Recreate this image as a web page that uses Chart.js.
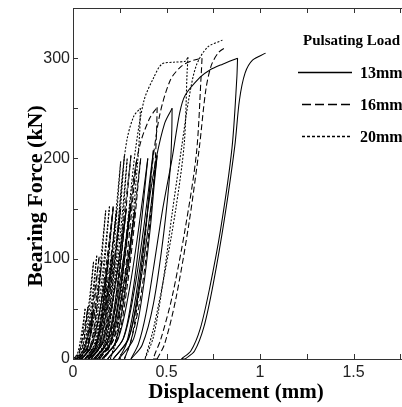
<!DOCTYPE html>
<html>
<head>
<meta charset="utf-8">
<script src="https://cdn.jsdelivr.net/npm/chart.js@4.4.1/dist/chart.umd.min.js"></script>
<style>
  html, body { margin: 0; padding: 0; background: #fff; overflow: hidden; }
  #wrap { width: 402px; height: 407px; overflow: hidden; }
</style>
</head>
<body>
<div id="wrap"><canvas id="ctx" width="460" height="407"></canvas></div>
<script>
// Load-displacement cycles, [displacement (mm), force (kN)].
// Each row is one cycle: loading up to the peak, then unloading;
// the next row starts where the unloading ends.
const cycles13mm = [
  [[0.02, 0], [0.052, 5], [0.074, 18], [0.092, 33], [0.11, 50], [0.105, 43], [0.099, 33], [0.087, 18], [0.07, 5]],
  [[0.04, 0], [0.093, 10], [0.13, 35], [0.16, 65], [0.19, 100], [0.181, 85], [0.169, 65], [0.146, 35], [0.116, 10]],
  [[0.065, 0], [0.118, 10], [0.155, 36], [0.185, 68], [0.215, 104], [0.205, 88], [0.192, 68], [0.168, 36], [0.136, 10]],
  [[0.085, 0], [0.155, 15], [0.205, 52], [0.245, 98], [0.285, 150], [0.272, 128], [0.254, 98], [0.221, 52], [0.178, 15]],
  [[0.11, 0], [0.18, 16], [0.23, 54], [0.27, 101], [0.31, 155], [0.296, 132], [0.277, 101], [0.243, 54], [0.198, 16]],
  [[0.13, 0], [0.2, 15], [0.25, 52], [0.29, 96], [0.33, 148], [0.317, 126], [0.299, 96], [0.266, 52], [0.223, 15]],
  [[0.155, 0], [0.241, 20], [0.302, 70], [0.351, 130], [0.4, 200], [0.384, 170], [0.362, 130], [0.322, 70], [0.268, 20]],
  [[0.185, 0], [0.271, 21], [0.332, 73], [0.381, 135], [0.43, 208], [0.414, 177], [0.392, 135], [0.352, 73], [0.298, 21]],
  [[0.215, 0], [0.297, 20], [0.356, 71], [0.403, 132], [0.45, 203], [0.434, 173], [0.414, 132], [0.376, 71], [0.324, 20]],
  [[0.245, 0], [0.285, 15], [0.325, 50], [0.365, 100], [0.405, 155], [0.445, 200], [0.49, 235], [0.53, 250],
   [0.528, 225], [0.52, 190], [0.485, 125], [0.43, 55], [0.37, 14]],
  [[0.31, 0], [0.35, 15], [0.39, 45], [0.43, 90], [0.48, 150], [0.53, 200], [0.57, 245], [0.6, 263],
   [0.68, 281], [0.73, 288], [0.8, 294], [0.88, 300], [0.876, 280], [0.85, 210], [0.79, 130],
   [0.73, 70], [0.68, 30], [0.63, 8], [0.58, 0]],
  [[0.6, 0], [0.65, 8], [0.7, 32], [0.75, 75], [0.81, 140], [0.865, 212], [0.89, 258], [0.92, 285],
   [0.96, 298], [1.03, 305]]
];

const cycles16mm = [
  [[0, 0], [0.028, 5], [0.048, 18], [0.064, 34], [0.08, 52], [0.075, 44], [0.069, 34], [0.058, 18], [0.042, 5]],
  [[0.015, 0], [0.059, 10], [0.09, 36], [0.115, 66], [0.14, 102], [0.131, 87], [0.12, 66], [0.1, 36], [0.072, 10]],
  [[0.03, 0], [0.074, 10], [0.105, 34], [0.13, 64], [0.155, 98], [0.146, 83], [0.135, 64], [0.115, 34], [0.087, 10]],
  [[0.045, 0], [0.105, 15], [0.147, 53], [0.181, 99], [0.215, 152], [0.203, 129], [0.187, 99], [0.159, 53], [0.121, 15]],
  [[0.063, 0], [0.123, 15], [0.165, 52], [0.199, 96], [0.233, 148], [0.221, 126], [0.205, 96], [0.176, 52], [0.138, 15]],
  [[0.08, 0], [0.141, 15], [0.185, 52], [0.22, 98], [0.255, 150], [0.243, 128], [0.226, 98], [0.196, 52], [0.156, 15]],
  [[0.097, 0], [0.172, 20], [0.225, 71], [0.267, 132], [0.31, 203], [0.295, 173], [0.275, 132], [0.24, 71], [0.192, 20]],
  [[0.12, 0], [0.197, 20], [0.252, 69], [0.296, 129], [0.34, 198], [0.324, 168], [0.304, 129], [0.266, 69], [0.217, 20]],
  [[0.142, 0], [0.219, 20], [0.274, 70], [0.318, 130], [0.362, 200], [0.346, 170], [0.326, 130], [0.288, 70], [0.239, 20]],
  [[0.164, 0], [0.2, 15], [0.24, 55], [0.28, 115], [0.32, 175], [0.36, 215], [0.41, 240], [0.45, 251],
   [0.447, 228], [0.437, 190], [0.405, 125], [0.36, 60], [0.31, 18]],
  [[0.275, 0], [0.31, 18], [0.345, 55], [0.38, 110], [0.415, 178], [0.46, 240], [0.52, 278], [0.58, 292],
   [0.63, 297], [0.69, 300], [0.686, 285], [0.66, 205], [0.6, 130], [0.53, 62], [0.47, 20], [0.43, 0]],
  [[0.45, 0], [0.49, 15], [0.55, 60], [0.62, 135], [0.675, 210], [0.71, 268], [0.74, 293], [0.78, 306],
   [0.82, 311]]
];

const cycles20mm = [
  [[0, 0], [0.023, 5], [0.039, 18], [0.052, 33], [0.065, 50], [0.061, 43], [0.056, 33], [0.046, 18], [0.032, 5]],
  [[0.01, 0], [0.045, 10], [0.07, 34], [0.09, 63], [0.11, 97], [0.103, 82], [0.094, 63], [0.078, 34], [0.056, 10]],
  [[0.022, 0], [0.059, 10], [0.085, 36], [0.106, 67], [0.127, 103], [0.12, 88], [0.111, 67], [0.094, 36], [0.071, 10]],
  [[0.035, 0], [0.084, 15], [0.119, 52], [0.147, 96], [0.175, 148], [0.165, 126], [0.152, 96], [0.129, 52], [0.098, 15]],
  [[0.05, 0], [0.101, 15], [0.137, 53], [0.166, 99], [0.195, 152], [0.185, 129], [0.171, 99], [0.147, 53], [0.114, 15]],
  [[0.065, 0], [0.118, 15], [0.155, 52], [0.185, 98], [0.215, 150], [0.204, 128], [0.19, 98], [0.165, 52], [0.131, 15]],
  [[0.08, 0], [0.141, 20], [0.185, 69], [0.22, 128], [0.255, 197], [0.243, 167], [0.227, 128], [0.198, 69], [0.159, 20]],
  [[0.1, 0], [0.161, 20], [0.205, 71], [0.24, 132], [0.275, 203], [0.263, 173], [0.247, 132], [0.218, 71], [0.179, 20]],
  [[0.12, 0], [0.18, 20], [0.222, 70], [0.256, 130], [0.29, 200], [0.278, 170], [0.263, 130], [0.235, 70], [0.198, 20]],
  [[0.14, 0], [0.175, 20], [0.205, 60], [0.235, 120], [0.265, 185], [0.29, 220], [0.325, 242], [0.36, 250],
   [0.357, 228], [0.345, 195], [0.315, 130], [0.275, 65], [0.235, 20]],
  [[0.2, 0], [0.235, 25], [0.265, 80], [0.3, 150], [0.335, 210], [0.38, 258], [0.43, 280], [0.475, 294],
   [0.54, 296], [0.6, 297], [0.615, 301], [0.61, 285], [0.595, 215], [0.55, 150], [0.49, 85], [0.43, 30]],
  [[0.385, 0], [0.43, 22], [0.48, 75], [0.53, 145], [0.58, 210], [0.62, 260], [0.66, 293], [0.72, 311],
   [0.8, 318]]
];

const seriesLabels = ['13mm', '16mm', '20mm'];
const seriesDash = [[], [6, 3], [2, 1.6]];
const legendDash = [[], [9, 4], [3, 2]];

const xTitle = 'Displacement (mm)';
const yTitle = 'Bearing Force (kN)';
const legendTitle = 'Pulsating Load';

// split a load path into rising / falling runs so the spline never
// overshoots at a turning point
function branches(cycles) {
  const pts = cycles.flat();
  const runs = [];
  let run = [pts[0]];
  let dir = 0;
  for (let i = 1; i < pts.length; i++) {
    const d = Math.sign(pts[i][1] - pts[i - 1][1]);
    if (dir !== 0 && d !== 0 && d !== dir) {
      runs.push(run);
      run = [pts[i - 1]];
    }
    if (d !== 0) dir = d;
    run.push(pts[i]);
  }
  runs.push(run);
  return runs;
}

const datasets = [];
[cycles13mm, cycles16mm, cycles20mm].forEach((cycles, i) => {
  branches(cycles).forEach((run) => {
    datasets.push({
      label: seriesLabels[i],
      data: run.map(([x, y]) => ({ x, y })),
      showLine: true,
      borderColor: '#000',
      borderWidth: 1.05,
      borderDash: seriesDash[i],
      pointRadius: 0,
      tension: 0.3,
      fill: false,
    });
  });
});

// inward tick marks, the top frame line and both axis titles
const frameTicks = {
  id: 'frameTicks',
  afterDraw(chart) {
    const { ctx, chartArea: a, scales: { x, y } } = chart;
    ctx.save();
    ctx.strokeStyle = '#333';
    ctx.lineWidth = 1;
    ctx.beginPath();
    ctx.moveTo(a.left, a.top + 0.5);
    ctx.lineTo(a.right, a.top + 0.5);
    x.ticks.forEach((t) => {
      const px = Math.round(x.getPixelForValue(t.value)) + 0.5;
      ctx.moveTo(px, a.bottom);
      ctx.lineTo(px, a.bottom - 5);
      ctx.moveTo(px, a.top);
      ctx.lineTo(px, a.top + 5);
    });
    y.ticks.forEach((t) => {
      const py = Math.round(y.getPixelForValue(t.value)) + 0.5;
      ctx.moveTo(a.left, py);
      ctx.lineTo(a.left + 5, py);
    });
    ctx.stroke();

    ctx.fillStyle = '#000';
    ctx.textAlign = 'center';
    ctx.textBaseline = 'middle';
    ctx.font = 'bold 21px "Liberation Serif"';
    ctx.fillText(xTitle, 236, 393);

    ctx.translate(36, 196);
    ctx.rotate(-Math.PI / 2);
    ctx.font = 'bold 22px "Liberation Serif"';
    ctx.fillText(yTitle, 0, 0);
    ctx.restore();
  }
};

const legendBox = {
  id: 'legendBox',
  afterDraw(chart) {
    const ctx = chart.ctx;
    ctx.save();
    ctx.fillStyle = '#000';
    ctx.strokeStyle = '#000';
    ctx.textBaseline = 'middle';
    ctx.font = 'bold 15px "Liberation Serif"';
    ctx.fillText(legendTitle, 303, 41);
    ctx.font = 'bold 16px "Liberation Serif"';
    seriesLabels.forEach((label, i) => {
      const ly = 72.5 + i * 32;
      ctx.lineWidth = 1.6;
      ctx.setLineDash(legendDash[i]);
      ctx.beginPath();
      ctx.moveTo(i === 0 ? 298 : 302, ly);
      ctx.lineTo(352, ly);
      ctx.stroke();
      ctx.setLineDash([]);
      ctx.fillText(label, 360, ly + 1);
    });
    ctx.restore();
  }
};

const tickFont = { family: '"Liberation Sans", Arial, sans-serif', size: 16 };

new Chart(document.getElementById('ctx'), {
  type: 'scatter',
  data: { datasets },
  options: {
    responsive: false,
    animation: false,
    layout: { padding: { left: 0, top: 8, right: 13, bottom: 0 } },
    plugins: {
      legend: { display: false },
      tooltip: { enabled: false },
    },
    scales: {
      x: {
        type: 'linear',
        min: 0,
        max: 2,
        grid: { display: false },
        border: { display: true, color: '#333' },
        ticks: {
          stepSize: 0.25,
          autoSkip: false,
          maxRotation: 0,
          padding: -4,
          color: '#222',
          font: tickFont,
          callback: (v) => (Math.abs(v * 2 - Math.round(v * 2)) < 1e-6 ? String(v) : ''),
        },
        afterFit(scale) { scale.height = 48; },
      },
      y: {
        type: 'linear',
        min: 0,
        max: 350,
        grid: { display: false },
        border: { display: true, color: '#333' },
        ticks: {
          stepSize: 50,
          padding: -5,
          color: '#222',
          font: tickFont,
          callback: (v) => (v % 100 === 0 ? String(v) : ''),
        },
        afterFit(scale) { scale.width = 73; },
      },
    },
  },
  plugins: [frameTicks, legendBox],
});
</script>
</body>
</html>
